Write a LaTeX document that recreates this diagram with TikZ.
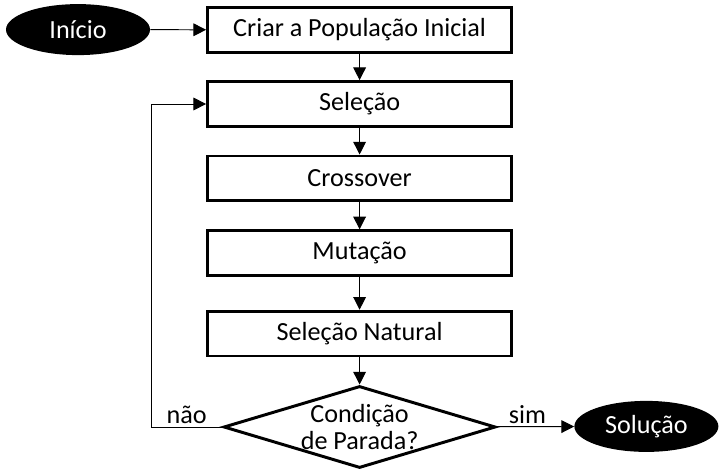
\documentclass[tikz,border=0pt]{standalone}
\usepackage{fontspec}
\setmainfont{Carlito}
\usetikzlibrary{shapes.geometric, arrows.meta}

\begin{document}
\begin{tikzpicture}

\tikzset{step box/.style = {shape=rectangle,draw,line width=2.1pt,minimum width=7.6cm,minimum height=1.12cm}}
\tikzset{term/.style = {shape=ellipse,fill=black,text=white,minimum width=3.6cm,minimum height=1.275cm,inner sep=0pt}}
\tikzset{decision/.style = {shape=diamond,draw,line width=2.1pt,aspect=3.27,inner sep=0pt,minimum width=6.8cm,minimum height=2.05cm,align=center}}
\tikzset{edge/.style = {-{Triangle[length=9pt,width=9pt]}, line width=0.7pt}}
\tikzset{every node/.style = {font=\fontsize{18.6}{18.6}\selectfont}}

\useasboundingbox (0,0) rectangle (18.175,-11.725);
%nodes
\node[term] (ini) at (1.95,-0.74) {Início};
\node[step box] (pop) at (8.99,-0.75) {Criar a População Inicial};
\node[step box] (sel) at (8.99,-2.6) {Seleção};
\node[step box] (cross) at (8.99,-4.46) {Crossover};
\node[step box] (mut) at (8.99,-6.33) {Mutação};
\node[step box] (nat) at (8.99,-8.34) {Seleção Natural};
\node[decision] (stop) at (8.99,-10.675) {Condição\\de Parada?};
\node[term] (sol) at (16.16,-10.66) {Solução};
\coordinate (loop) at (3.775,-2.6);
%edges
\draw[edge] (ini) -- (pop);
\draw[edge] (pop) -- (sel);
\draw[edge] (sel) -- (cross);
\draw[edge] (cross) -- (mut);
\draw[edge] (mut) -- (nat);
\draw[edge] (nat) -- (stop);
\draw[edge] (stop) -- (sol) node [pos=0.4, above, inner sep=2pt] {sim};
\draw[edge] (stop.west) -- (stop.west -| loop) node [midway, above, inner sep=2pt] {não} |- (sel.west);

\end{tikzpicture}
\end{document}
